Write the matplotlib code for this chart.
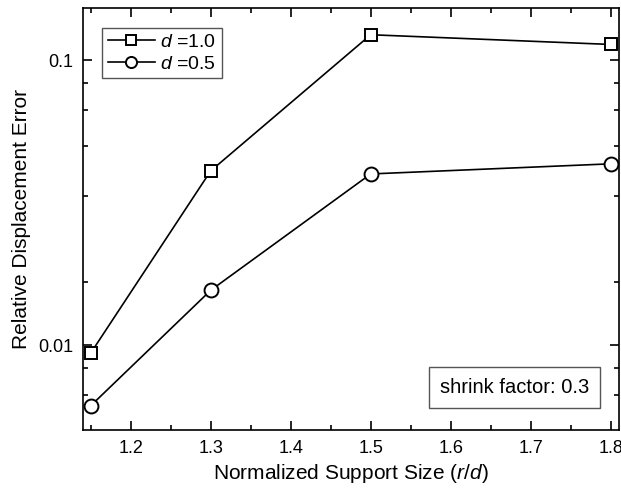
import numpy as np
import matplotlib
matplotlib.use("Agg")
import matplotlib.pyplot as plt
from matplotlib.ticker import FixedLocator, NullFormatter, FixedFormatter

plt.rcParams['font.family'] = ['Liberation Sans', 'DejaVu Sans']
plt.rcParams['mathtext.fontset'] = 'custom'
plt.rcParams['mathtext.rm'] = 'Liberation Sans'
plt.rcParams['mathtext.it'] = 'Liberation Sans:italic'

support = [1.15, 1.3, 1.5, 1.8]
err_d10 = [0.00937, 0.0409, 0.123, 0.1137]
err_d05 = [0.00612, 0.01557, 0.0399, 0.0433]

x_major = [1.2, 1.3, 1.4, 1.5, 1.6, 1.7, 1.8]
x_minor = [1.15, 1.25, 1.35, 1.45, 1.55, 1.65, 1.75]
y_major = [0.01, 0.1]
y_major_labels = ["0.01", "0.1"]
y_minor = [0.00667, 0.00833, 0.0167, 0.0333, 0.05, 0.0667, 0.0833]

fig = plt.figure(figsize=(6.21, 4.95), dpi=100)
ax = fig.add_axes([0.1332, 0.1313, 0.8631, 0.8519])

ax.plot(support, err_d10, color='black', lw=1.2, marker='s', ms=8.5,
        mfc='white', mec='black', mew=1.4, label='$d$ =1.0')
ax.plot(support, err_d05, color='black', lw=1.2, marker='o', ms=10,
        mfc='white', mec='black', mew=1.4, label='$d$ =0.5')

ax.set_yscale('log')
ax.set_xlim(1.14, 1.81)
ax.set_ylim(0.00503, 0.1523)

ax.xaxis.set_major_locator(FixedLocator(x_major))
ax.xaxis.set_minor_locator(FixedLocator(x_minor))
ax.yaxis.set_major_locator(FixedLocator(y_major))
ax.yaxis.set_major_formatter(FixedFormatter(y_major_labels))
ax.yaxis.set_minor_locator(FixedLocator(y_minor))
ax.yaxis.set_minor_formatter(NullFormatter())

ax.tick_params(which='both', direction='in', top=True, right=True,
               labelsize=13, width=1.2)
ax.tick_params(which='major', length=6.5, pad=7)
ax.tick_params(which='minor', length=3.3)
for s in ax.spines.values():
    s.set_linewidth(1.2)

ax.set_xlabel('Normalized Support Size ($r$/$d$)', fontsize=15, labelpad=4)
ax.set_ylabel('Relative Displacement Error', fontsize=15, labelpad=5)

leg = ax.legend(loc='upper left', bbox_to_anchor=(0.036, 0.954), fontsize=14,
                handlelength=2.4, handletextpad=0.3, borderpad=0.3,
                labelspacing=0.2, fancybox=False, framealpha=1,
                edgecolor='#555555', borderaxespad=0, markerscale=0.8)
leg.get_frame().set_linewidth(1.0)

ax.text(0.945, 0.1, 'shrink factor: 0.3', transform=ax.transAxes,
        ha='right', va='center', fontsize=14.5,
        bbox=dict(boxstyle='square,pad=0.55', fc='white', ec='#555555', lw=1.0))

fig.savefig('out.png', dpi=100)
